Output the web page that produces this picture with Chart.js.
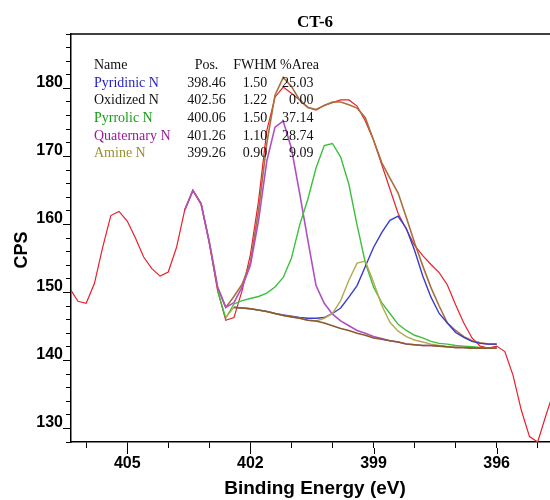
<!DOCTYPE html>
<html>
<head>
<meta charset="utf-8">
<script src="https://cdn.jsdelivr.net/npm/chart.js@4"></script>
<style>
  body { margin: 0; background: #fff; overflow: hidden; }
  canvas { display: block; }
</style>
</head>
<body>
<canvas id="xps" width="550" height="500"></canvas>
<script>
// N 1s spectrum, raw counts (0.2 eV steps)
const energy = [406.4, 406.2, 406.0, 405.8, 405.6, 405.4, 405.2, 405.0, 404.8, 404.6,
  404.4, 404.2, 404.0, 403.8, 403.6, 403.4, 403.2, 403.0, 402.8, 402.6,
  402.4, 402.2, 402.0, 401.8, 401.6, 401.4, 401.2, 401.0, 400.8, 400.6,
  400.4, 400.2, 400.0, 399.8, 399.6, 399.4, 399.2, 399.0, 398.8, 398.6,
  398.4, 398.2, 398.0, 397.8, 397.6, 397.4, 397.2, 397.0, 396.8, 396.6,
  396.4, 396.2, 396.0, 395.8, 395.6, 395.4, 395.2, 395.0, 394.8, 394.6];
const rawCps = [150.6, 148.7, 148.4, 151.3, 156.6, 161.3, 161.9, 160.5, 158.0, 155.2,
  153.5, 152.4, 153.0, 156.6, 162.1, 165.0, 163.1, 157.2, 150.3, 145.9,
  146.3, 150.3, 155.5, 163.5, 173.8, 178.7, 180.2, 179.3, 178.3, 177.2,
  176.8, 177.5, 177.9, 178.3, 178.3, 177.4, 175.2, 172.4, 168.8, 165.2,
  161.6, 159.3, 156.9, 155.4, 154.1, 152.9, 151.1, 148.2, 145.5, 143.3,
  142.1, 141.8, 142.1, 141.3, 137.8, 132.7, 128.8, 128.0, 131.9, 135.6];

// fit region 403.6 -> 396.0
const fitEnergy = [403.6, 403.4, 403.2, 403.0, 402.8, 402.6, 402.4, 402.2, 402.0, 401.8,
  401.6, 401.4, 401.2, 401.0, 400.8, 400.6, 400.4, 400.2, 400.0, 399.8,
  399.6, 399.4, 399.2, 399.0, 398.8, 398.6, 398.4, 398.2, 398.0, 397.8,
  397.6, 397.4, 397.2, 397.0, 396.8, 396.6, 396.4, 396.2, 396.0];
const envelope = [162.1, 165.0, 163.0, 157.4, 150.8, 147.8, 149.4, 151.2, 154.4, 162.1,
  171.9, 179.0, 181.6, 180.3, 178.3, 177.2, 176.9, 177.5, 178.0, 178.0,
  177.6, 177.1, 175.7, 172.4, 169.1, 166.8, 164.6, 161.0, 157.3, 153.9,
  150.7, 148.0, 145.5, 144.4, 143.5, 142.9, 142.6, 142.4, 142.4];
const baseline = [null, null, null, null, null, null, 147.8, 147.7, 147.6, 147.4,
  147.2, 146.9, 146.6, 146.4, 146.2, 145.9, 145.8, 145.5, 145.1, 144.7,
  144.4, 144.0, 143.7, 143.3, 143.1, 142.9, 142.7, 142.4, 142.3, 142.2,
  142.2, 142.1, 142.0, 141.9, 141.9, 141.8, 141.8, 141.8, 141.8];
const pyridinic = [null, null, null, null, null, null, 147.8, 147.7, 147.6, 147.4,
  147.2, 146.9, 146.7, 146.5, 146.3, 146.2, 146.2, 146.3, 146.9, 147.7,
  149.3, 151.0, 153.8, 156.6, 158.8, 160.6, 161.2, 159.4, 156.2, 152.4,
  149.3, 146.9, 145.5, 144.1, 143.4, 142.8, 142.5, 142.4, 142.4];
const pyrrolic = [null, null, null, null, 150.3, 146.2, 148.3, 148.8, 149.1, 149.4,
  149.9, 150.8, 152.2, 155.0, 159.9, 163.7, 168.3, 171.6, 171.9, 169.9,
  165.9, 159.9, 154.4, 150.8, 148.5, 146.9, 145.3, 144.4, 143.7, 143.3,
  142.8, 142.5, 142.4, 142.2, 142.1, 142.0, 141.9, 141.8, 141.9];
const quaternary = [162.1, 165.0, 163.0, 157.4, 150.8, 147.8, 148.5, 150.8, 154.0, 160.6,
  169.3, 174.3, 175.2, 171.2, 164.6, 157.7, 151.0, 148.4, 146.8, 145.8,
  145.1, 144.4, 144.0, 143.5, 143.2, 142.9, 142.7, 142.4, 142.3, 142.2,
  142.2, 142.1, 142.0, 141.9, 141.9, 141.8, 141.8, 141.8, 141.8];
const amine = [null, null, null, null, null, 146.3, 147.8, 147.7, 147.6, 147.4,
  147.2, 146.9, 146.6, 146.4, 146.2, 145.9, 145.8, 146.2, 146.9, 148.8,
  151.8, 154.3, 154.6, 151.5, 148.1, 145.6, 144.3, 143.5, 143.0, 142.7,
  142.4, 142.2, 142.0, 141.9, 141.9, 141.8, 141.8, 141.8, 141.8];

// peak table
const peakNames = ['Pyridinic N', 'Oxidized N', 'Pyrrolic N', 'Quaternary N', 'Amine N'];
const peakPos = ['398.46', '402.56', '400.06', '401.26', '399.26'];
const peakFwhm = ['1.50', '1.22', '1.50', '1.10', '0.90'];
const peakArea = ['25.03', '0.00', '37.14', '28.74', '9.09'];
const peakTextColors = ['#1f1fbf', '#111111', '#18a018', '#9a1a9a', '#9a9030'];

const yTicks = [130, 140, 150, 160, 170, 180];
const xTicks = [405, 402, 399, 396];

function pts(xs, ys) {
  return xs.map((x, i) => ({ x: x, y: ys[i] }));
}

function line(data, color, width) {
  return {
    data: data,
    borderColor: color,
    borderWidth: width,
    pointRadius: 0,
    tension: 0,
    fill: false
  };
}

const sans = '"Liberation Sans", Arial, sans-serif';
const serif = '"Liberation Serif", "Times New Roman", serif';

const decor = {
  id: 'decor',
  afterDatasetsDraw(chart) {
    const ctx = chart.ctx;
    const a = chart.chartArea;
    const xs = chart.scales.x, ys = chart.scales.y;
    ctx.save();
    ctx.strokeStyle = '#000';
    ctx.lineWidth = 1.5;
    // top frame line
    ctx.beginPath();
    ctx.moveTo(a.left, a.top);
    ctx.lineTo(a.right, a.top);
    ctx.stroke();
    // longer major ticks
    ctx.lineWidth = 1;
    yTicks.forEach(v => {
      const y = Math.round(ys.getPixelForValue(v)) + 0.5;
      ctx.beginPath();
      ctx.moveTo(a.left - 8, y);
      ctx.lineTo(a.left - 5, y);
      ctx.stroke();
    });
    xTicks.forEach(v => {
      const x = Math.round(xs.getPixelForValue(v)) + 0.5;
      ctx.beginPath();
      ctx.moveTo(x, a.bottom + 6);
      ctx.lineTo(x, a.bottom + 12);
      ctx.stroke();
    });

    ctx.fillStyle = '#000';
    ctx.font = 'bold 17px ' + serif;
    ctx.textAlign = 'center';
    ctx.textBaseline = 'alphabetic';
    ctx.fillText('CT-6', 315, 27);

    ctx.font = 'bold 19px ' + sans;
    ctx.fillText('Binding Energy (eV)', 315, 494);

    ctx.save();
    ctx.translate(27, 250);
    ctx.rotate(-Math.PI / 2);
    ctx.font = 'bold 18px ' + sans;
    ctx.fillText('CPS', 0, 0);
    ctx.restore();

    // component table
    ctx.font = '14px ' + serif;
    const rowY = [86.7, 104.3, 122, 139.7, 157.4];
    ctx.fillStyle = '#111';
    ctx.textAlign = 'left';
    ctx.fillText('Name', 94, 69);
    ctx.textAlign = 'center';
    ctx.fillText('Pos.', 206.5, 69);
    ctx.fillText('FWHM', 255, 69);
    ctx.textAlign = 'left';
    ctx.fillText('%Area', 280, 69);
    peakNames.forEach((n, i) => {
      ctx.fillStyle = peakTextColors[i];
      ctx.textAlign = 'left';
      ctx.fillText(n, 94, rowY[i]);
      ctx.fillStyle = '#111';
      ctx.textAlign = 'center';
      ctx.fillText(peakPos[i], 206.5, rowY[i]);
      ctx.fillText(peakFwhm[i], 255, rowY[i]);
      ctx.textAlign = 'right';
      ctx.fillText(peakArea[i], 313.5, rowY[i]);
    });
    ctx.restore();
  }
};

new Chart(document.getElementById('xps'), {
  type: 'line',
  data: {
    datasets: [
      line(pts(fitEnergy, baseline), '#8a5a30', 1.6),
      line(pts(fitEnergy, amine), '#b4aa50', 1.4),
      line(pts(fitEnergy, pyridinic), '#3a3ad0', 1.4),
      line(pts(fitEnergy, pyrrolic), '#3cc03c', 1.4),
      line(pts(fitEnergy, quaternary), '#b050c0', 1.6),
      line(pts(fitEnergy, envelope), '#a8703c', 1.6),
      line(pts(energy, rawCps), '#e8202a', 1.2)
    ]
  },
  options: {
    responsive: false,
    animation: false,
    events: [],
    layout: { padding: { top: 34, right: 0, bottom: 0, left: 0 } },
    plugins: {
      legend: { display: false },
      tooltip: { enabled: false },
      title: { display: false }
    },
    scales: {
      x: {
        type: 'linear',
        reverse: true,
        min: 394.7,
        max: 406.37,
        afterFit: s => { s.height = 58; },
        border: { color: '#000', width: 1.5 },
        grid: { drawOnChartArea: false, drawTicks: true, tickLength: 6, color: '#000' },
        ticks: {
          stepSize: 1,
          includeBounds: false,
          autoSkip: false,
          maxRotation: 0,
          padding: 6,
          color: '#000',
          font: { family: sans, size: 16, weight: 'bold' },
          callback: v => (xTicks.includes(v) ? String(v) : '')
        }
      },
      y: {
        min: 128,
        max: 188,
        afterFit: s => { s.width = 71; },
        border: { color: '#000', width: 1.5 },
        grid: { drawOnChartArea: false, drawTicks: true, tickLength: 5, color: '#000' },
        ticks: {
          stepSize: 2,
          includeBounds: false,
          autoSkip: false,
          padding: 3,
          labelOffset: -6,
          color: '#000',
          font: { family: sans, size: 16, weight: 'bold' },
          callback: v => (yTicks.includes(v) ? String(v) : '')
        }
      }
    }
  },
  plugins: [decor]
});
</script>
</body>
</html>
